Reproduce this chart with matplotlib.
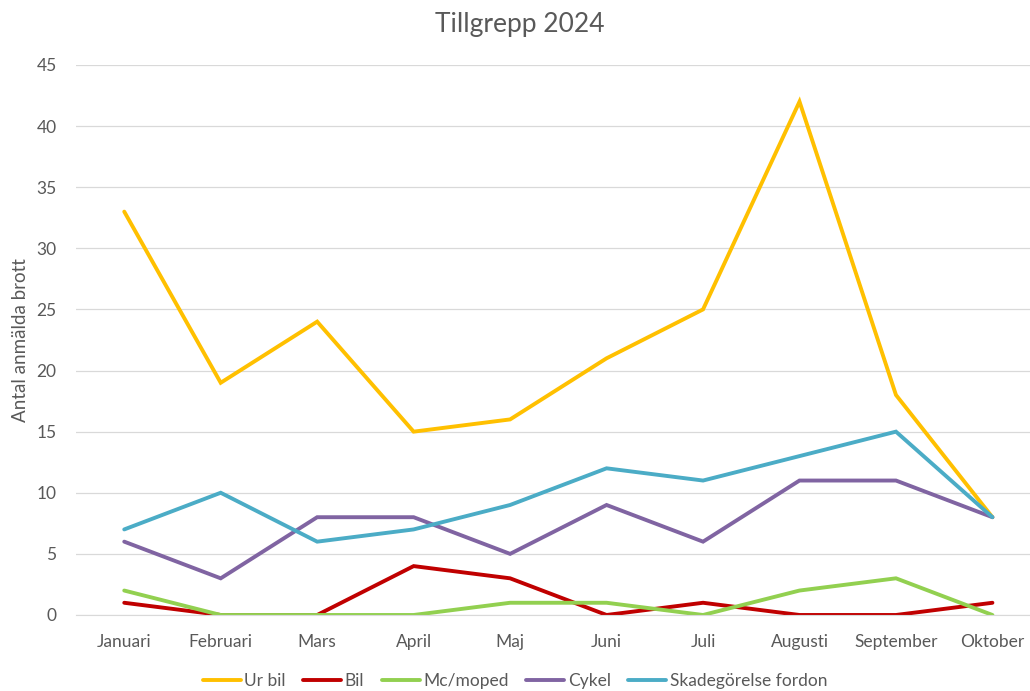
import matplotlib.pyplot as plt

plt.rcParams['font.family'] = ['Lato', 'DejaVu Sans']

months = ['Januari', 'Februari', 'Mars', 'April', 'Maj', 'Juni', 'Juli',
          'Augusti', 'September', 'Oktober']
ur_bil = [33, 19, 24, 15, 16, 21, 25, 42, 18, 8]
bil = [1, 0, 0, 4, 3, 0, 1, 0, 0, 1]
mc_moped = [2, 0, 0, 0, 1, 1, 0, 2, 3, 0]
cykel = [6, 3, 8, 8, 5, 9, 6, 11, 11, 8]
skadegorelse = [7, 10, 6, 7, 9, 12, 11, 13, 15, 8]

series = [
    ('Ur bil', ur_bil, '#FFC000'),
    ('Bil', bil, '#C00000'),
    ('Mc/moped', mc_moped, '#92D050'),
    ('Cykel', cykel, '#8064A2'),
    ('Skadegörelse fordon', skadegorelse, '#4BACC6'),
]

fig = plt.figure(figsize=(10.30, 6.91), dpi=100)
ax = fig.add_axes([0.0738, 0.110, 0.93, 0.796])

x = range(len(months))
for name, vals, color in series:
    ax.plot(x, vals, color=color, linewidth=2.8, label=name,
            solid_capstyle='round', solid_joinstyle='miter')

ax.set_ylim(0, 45)
ax.set_yticks(range(0, 46, 5))
ax.set_xlim(-0.5, 9.43)
ax.set_xticks(list(x))
ax.set_xticklabels(months)
ax.grid(axis='y', color='#D9D9D9', linewidth=0.9)
ax.set_axisbelow(True)
for side in ['top', 'right', 'left']:
    ax.spines[side].set_visible(False)
ax.spines['bottom'].set_color('#D9D9D9')
ax.tick_params(axis='both', length=0, colors='#595959', labelsize=12.5)
ax.tick_params(axis='x', pad=14)
ax.tick_params(axis='y', pad=14)

ax.set_ylabel('Antal anmälda brott', fontsize=13.5, color='#595959', labelpad=5)
fig.text(0.505, 0.965, 'Tillgrepp 2024', ha='center', va='center',
         fontsize=19, color='#595959')

fig.legend(loc='center', bbox_to_anchor=(0.5, 0.015), ncol=5, frameon=False,
           fontsize=12.5, handlelength=2.2, handletextpad=0.2,
           columnspacing=1.0, labelcolor='#595959')

fig.savefig('out.png', dpi=100)
